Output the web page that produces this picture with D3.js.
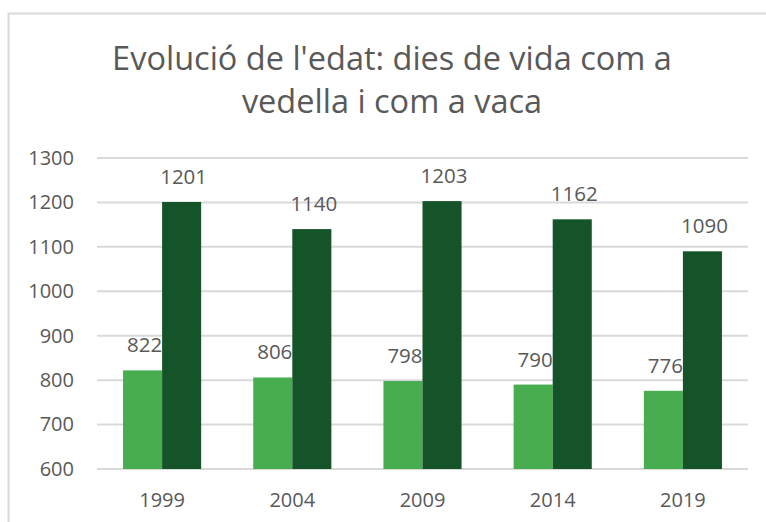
<!DOCTYPE html>
<meta charset="utf-8">
<style>
  body { margin: 0; background: #fff; }
  text { font-family: "Open Sans", sans-serif; fill: #595959; }
</style>
<svg id="chart"></svg>
<script src="https://cdn.jsdelivr.net/npm/d3@7"></script>
<script>

// values
var years = ["1999", "2004", "2009", "2014", "2019"]
var vedella = [822, 806, 798, 790, 776]
var vaca = [1201, 1140, 1203, 1162, 1090]
var yTicks = [600, 700, 800, 900, 1000, 1100, 1200, 1300]
var titleLines = ["Evolució de l'edat: dies de vida com a", "vedella i com a vaca"]

var width = 766
var height = 522
var margin = { top: 158, right: 18, bottom: 53, left: 97 }

var svg = d3.select("#chart")
    .attr("width", width)
    .attr("height", height)

// chart area border (runs off the right and bottom edges)
svg.append("rect")
    .attr("x", 8.5)
    .attr("y", 13.5)
    .attr("width", width + 10)
    .attr("height", height + 10)
    .attr("fill", "none")
    .attr("stroke", "#d9d9d9")
    .attr("stroke-width", 2)

svg.append("text")
    .attr("x", 392)
    .attr("text-anchor", "middle")
    .style("font-size", "32.5px")
    .selectAll("tspan")
    .data(titleLines)
    .enter().append("tspan")
    .attr("x", 392)
    .attr("y", function(d, i) { return 70 + i * 43 })
    .text(function(d) { return d })

var x = d3.scaleBand()
    .domain(years)
    .range([margin.left, width - margin.right])
    .paddingInner(0.4)
    .paddingOuter(0.2)

var y = d3.scaleLinear()
    .domain([600, 1300])
    .range([height - margin.bottom, margin.top])

// gridlines
svg.append("g")
    .selectAll("line")
    .data(yTicks)
    .enter().append("line")
    .attr("x1", margin.left)
    .attr("x2", width - margin.right)
    .attr("y1", function(d) { return y(d) })
    .attr("y2", function(d) { return y(d) })
    .attr("stroke", "#d9d9d9")
    .attr("stroke-width", 2)

// y axis labels
var yAxis = svg.append("g")
    .attr("transform", "translate(" + margin.left + ",0)")
    .call(d3.axisLeft(y).tickValues(yTicks).tickFormat(d3.format("d")).tickSize(0).tickPadding(23))
yAxis.select(".domain").remove()
yAxis.selectAll("text")
    .style("font-size", "20px")
    .style("font-family", "'Open Sans', sans-serif")
    .attr("fill", "#595959")

// x axis labels
var xAxis = svg.append("g")
    .attr("transform", "translate(0," + (height - margin.bottom) + ")")
    .call(d3.axisBottom(x).tickSize(0).tickPadding(24))
xAxis.select(".domain").remove()
xAxis.selectAll("text")
    .style("font-size", "20px")
    .style("font-family", "'Open Sans', sans-serif")
    .attr("fill", "#595959")

var barW = x.bandwidth() / 2

function drawSeries(values, offset, color) {
  var g = svg.append("g")
  g.selectAll("rect")
    .data(values)
    .enter().append("rect")
    .attr("x", function(d, i) { return x(years[i]) + offset })
    .attr("y", function(d) { return y(d) })
    .attr("width", barW)
    .attr("height", function(d) { return y(600) - y(d) })
    .attr("fill", color)
  g.selectAll("text")
    .data(values)
    .enter().append("text")
    .attr("x", function(d, i) { return x(years[i]) + offset + barW / 2 + 2 })
    .attr("y", function(d) { return y(d) - 18 })
    .attr("text-anchor", "middle")
    .style("font-size", "20.5px")
    .text(function(d) { return d })
}

drawSeries(vedella, 0, "#47ad4f")
drawSeries(vaca, barW, "#155429")

</script>
